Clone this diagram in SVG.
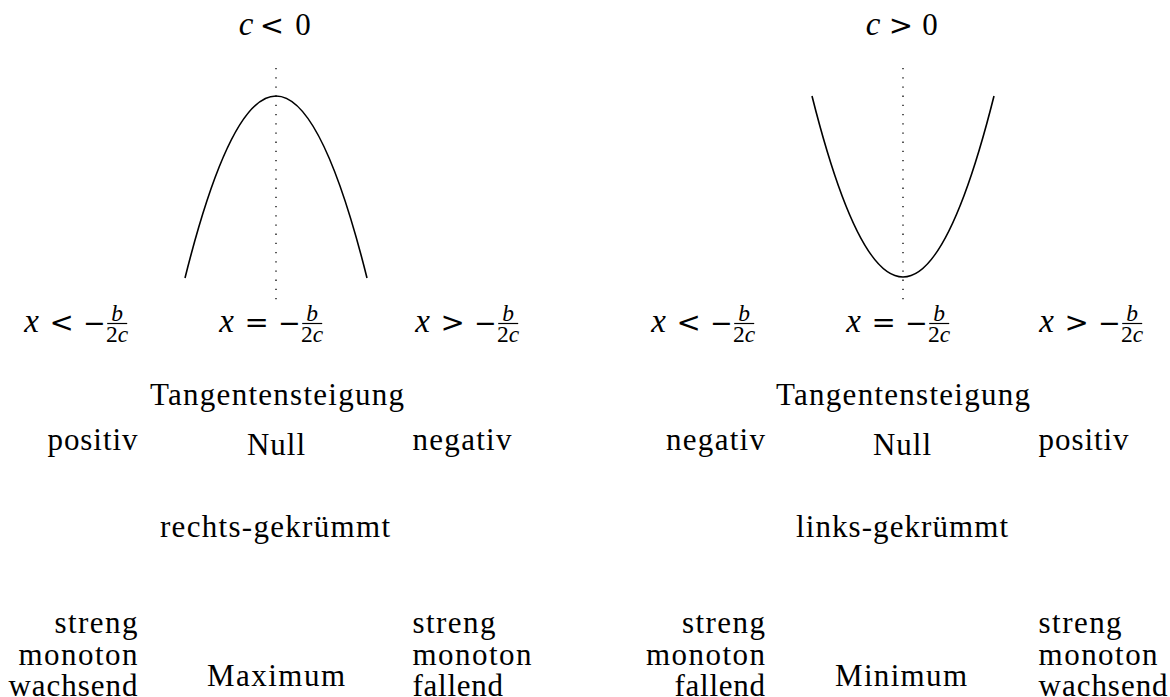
<svg xmlns="http://www.w3.org/2000/svg" width="1170" height="697" viewBox="0 0 1170 697">
<style>
.t{font-family:"Liberation Serif","Times New Roman",serif;font-size:31px;fill:#000}
.m{font-style:italic}
.mx{font-size:33px}
.r{font-family:"DejaVu Sans",sans-serif;font-size:29px;font-weight:normal}
.mi{font-size:27px}
.s{font-size:23.5px}
.curve{fill:none;stroke:#000;stroke-width:1.6}
.axis{fill:none;stroke:#000;stroke-width:1.3;stroke-dasharray:1.3 7.9}
.bar{stroke:#000;stroke-width:1.2}
</style>
<rect x="0" y="0" width="1170" height="697" fill="#fff"/>

<!-- left diagram: c < 0 -->
<g id="title-left">
  <text class="t m mx" x="246" y="35" text-anchor="middle">c</text>
  <text class="t r" x="272" y="35" text-anchor="middle">&lt;</text>
  <text class="t" x="303" y="35" text-anchor="middle">0</text>
</g>
<g id="parabola-left">
  <path class="curve" d="M185,278 Q276,-86 367,278"/>
</g>

<!-- right diagram: c > 0 -->
<g id="title-right">
  <text class="t m mx" x="873" y="35" text-anchor="middle">c</text>
  <text class="t r" x="901" y="35" text-anchor="middle">&gt;</text>
  <text class="t" x="930" y="35" text-anchor="middle">0</text>
</g>
<g id="parabola-right">
  <path class="curve" d="M812,96 Q903,458 994,96"/>
</g>

<g id="connectors">
  <line class="axis" x1="276" y1="68" x2="276" y2="306"/>
  <line class="axis" x1="903" y1="68" x2="903" y2="306"/>
</g>

<!-- x labels left -->
<g id="xlabel-left-1">
  <text class="t m mx" x="31.7" y="332" text-anchor="middle">x</text>
  <text class="t r" x="61.7" y="332" text-anchor="middle">&lt;</text>
  <text class="t r mi" x="94.2" y="332" text-anchor="middle">−</text>
  <line class="bar" x1="107.2" y1="323.5" x2="127.2" y2="323.5"/>
  <text class="t s m" x="117.2" y="321" text-anchor="middle">b</text>
  <text class="t s" x="117.2" y="341.5" text-anchor="middle">2<tspan class="m">c</tspan></text>
</g>
<g id="xlabel-left-2">
  <text class="t m mx" x="226.7" y="332" text-anchor="middle">x</text>
  <text class="t r" x="256.7" y="332" text-anchor="middle">=</text>
  <text class="t r mi" x="289.2" y="332" text-anchor="middle">−</text>
  <line class="bar" x1="302.2" y1="323.5" x2="322.2" y2="323.5"/>
  <text class="t s m" x="312.2" y="321" text-anchor="middle">b</text>
  <text class="t s" x="312.2" y="341.5" text-anchor="middle">2<tspan class="m">c</tspan></text>
</g>
<g id="xlabel-left-3">
  <text class="t m mx" x="422.7" y="332" text-anchor="middle">x</text>
  <text class="t r" x="452.7" y="332" text-anchor="middle">&gt;</text>
  <text class="t r mi" x="485.2" y="332" text-anchor="middle">−</text>
  <line class="bar" x1="498.2" y1="323.5" x2="518.2" y2="323.5"/>
  <text class="t s m" x="508.2" y="321" text-anchor="middle">b</text>
  <text class="t s" x="508.2" y="341.5" text-anchor="middle">2<tspan class="m">c</tspan></text>
</g>

<!-- x labels right -->
<g id="xlabel-right-1">
  <text class="t m mx" x="658.7" y="332" text-anchor="middle">x</text>
  <text class="t r" x="688.7" y="332" text-anchor="middle">&lt;</text>
  <text class="t r mi" x="721.2" y="332" text-anchor="middle">−</text>
  <line class="bar" x1="734.2" y1="323.5" x2="754.2" y2="323.5"/>
  <text class="t s m" x="744.2" y="321" text-anchor="middle">b</text>
  <text class="t s" x="744.2" y="341.5" text-anchor="middle">2<tspan class="m">c</tspan></text>
</g>
<g id="xlabel-right-2">
  <text class="t m mx" x="853.7" y="332" text-anchor="middle">x</text>
  <text class="t r" x="883.7" y="332" text-anchor="middle">=</text>
  <text class="t r mi" x="916.2" y="332" text-anchor="middle">−</text>
  <line class="bar" x1="929.2" y1="323.5" x2="949.2" y2="323.5"/>
  <text class="t s m" x="939.2" y="321" text-anchor="middle">b</text>
  <text class="t s" x="939.2" y="341.5" text-anchor="middle">2<tspan class="m">c</tspan></text>
</g>
<g id="xlabel-right-3">
  <text class="t m mx" x="1046.7" y="332" text-anchor="middle">x</text>
  <text class="t r" x="1076.7" y="332" text-anchor="middle">&gt;</text>
  <text class="t r mi" x="1109.2" y="332" text-anchor="middle">−</text>
  <line class="bar" x1="1122.2" y1="323.5" x2="1142.2" y2="323.5"/>
  <text class="t s m" x="1132.2" y="321" text-anchor="middle">b</text>
  <text class="t s" x="1132.2" y="341.5" text-anchor="middle">2<tspan class="m">c</tspan></text>
</g>

<!-- slope rows -->
<g id="slope-left">
  <text class="t" x="277" y="405" text-anchor="middle" textLength="254">Tangentensteigung</text>
  <text class="t" x="137.5" y="450" text-anchor="end" textLength="90">positiv</text>
  <text class="t" x="276" y="455" text-anchor="middle" textLength="58">Null</text>
  <text class="t" x="412.5" y="450" textLength="99">negativ</text>
</g>
<g id="slope-right">
  <text class="t" x="903" y="405" text-anchor="middle" textLength="254">Tangentensteigung</text>
  <text class="t" x="765" y="450" text-anchor="end" textLength="99">negativ</text>
  <text class="t" x="902" y="455" text-anchor="middle" textLength="58">Null</text>
  <text class="t" x="1038.6" y="450" textLength="90">positiv</text>
</g>

<!-- curvature -->
<g id="curvature-left">
  <text class="t" x="275" y="537" text-anchor="middle" textLength="230">rechts-gekrümmt</text>
</g>
<g id="curvature-right">
  <text class="t" x="902" y="537" text-anchor="middle" textLength="212">links-gekrümmt</text>
</g>

<!-- monotonicity left -->
<g id="mono-left-1">
  <text class="t" x="137.5" y="633" text-anchor="end" textLength="83">streng</text>
  <text class="t" x="137.5" y="665" text-anchor="end" textLength="119">monoton</text>
  <text class="t" x="137.5" y="696" text-anchor="end" textLength="129">wachsend</text>
</g>
<g id="extremum-left">
  <text class="t" x="276" y="686" text-anchor="middle" textLength="138">Maximum</text>
</g>
<g id="mono-left-3">
  <text class="t" x="412.5" y="633" textLength="83">streng</text>
  <text class="t" x="412.5" y="665" textLength="119">monoton</text>
  <text class="t" x="412.5" y="696" textLength="90.5">fallend</text>
</g>

<!-- monotonicity right -->
<g id="mono-right-1">
  <text class="t" x="765" y="633" text-anchor="end" textLength="83">streng</text>
  <text class="t" x="765" y="665" text-anchor="end" textLength="119">monoton</text>
  <text class="t" x="765" y="696" text-anchor="end" textLength="90.5">fallend</text>
</g>
<g id="extremum-right">
  <text class="t" x="901" y="686" text-anchor="middle" textLength="132">Minimum</text>
</g>
<g id="mono-right-3">
  <text class="t" x="1038.6" y="633" textLength="83">streng</text>
  <text class="t" x="1038.6" y="665" textLength="119">monoton</text>
  <text class="t" x="1038.6" y="696" textLength="129">wachsend</text>
</g>
</svg>
